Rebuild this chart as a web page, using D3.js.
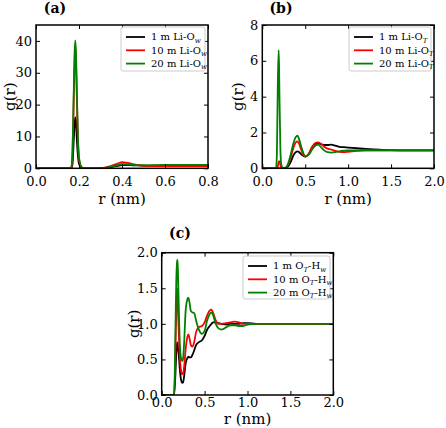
<!DOCTYPE html>
<html><head><meta charset="utf-8">
<script src="https://cdn.jsdelivr.net/npm/d3@7"></script>
<style>body{margin:0;background:#fff}svg{display:block}text{font-family:"DejaVu Serif",serif}</style>
</head><body><svg id="c" width="446" height="428"></svg>
<script>
// ---------- data ----------
const colors = ["#000000", "#ff0000", "#008000"];
const concLabels = ["1 m", "10 m", "20 m"];

// Panel (a): Li-Ow
const rA = [0, 0.15, 0.16, 0.165, 0.17, 0.175, 0.18, 0.183, 0.186, 0.19, 0.195, 0.2, 0.21, 0.22, 0.24, 0.28, 0.32, 0.35, 0.38, 0.40, 0.42, 0.45, 0.48, 0.52, 0.56, 0.6, 0.7, 0.8];
const gA1 = [0, 0, 0, 0.1, 1.5, 8, 14.5, 16, 14.5, 9, 4, 1.4, 0.2, 0.05, 0, 0, 0.1, 0.4, 0.8, 1.0, 1.0, 0.95, 0.9, 0.85, 0.85, 0.9, 0.9, 0.9];
const gA2 = [0, 0, 0, 0.4, 5, 20, 35, 38.5, 34, 22, 9, 3, 0.5, 0.1, 0, 0, 0.2, 0.8, 1.5, 1.9, 1.8, 1.3, 0.9, 0.7, 0.7, 0.7, 0.7, 0.7];
const gA3 = [0, 0, 0, 0.5, 6, 22, 37, 40.2, 36, 24, 10, 3.5, 0.6, 0.1, 0, 0, 0.1, 0.5, 1.0, 1.3, 1.3, 1.1, 0.95, 0.95, 1.0, 1.05, 1.05, 1.05];

// Panel (b): Li-OT
const rB = [0, 0.16, 0.17, 0.18, 0.19, 0.195, 0.2, 0.21, 0.22, 0.24, 0.27, 0.3, 0.33, 0.36, 0.39, 0.41, 0.43, 0.46, 0.5, 0.54, 0.58, 0.62, 0.65, 0.68, 0.72, 0.76, 0.8, 0.85, 0.9, 0.95, 1.0, 1.1, 1.2, 1.3, 1.4, 1.5, 1.7, 2.0];
const gB1 = [0, 0, 0, 0, 0, 0, 0, 0, 0, 0, 0.02, 0.1, 0.35, 0.7, 0.9, 0.95, 0.9, 0.75, 0.65, 0.8, 1.15, 1.35, 1.4, 1.35, 1.3, 1.3, 1.32, 1.27, 1.2, 1.18, 1.16, 1.12, 1.08, 1.05, 1.03, 1.01, 1.0, 1.0];
const gB2 = [0, 0, 0, 0.1, 0.35, 0.4, 0.38, 0.2, 0.05, 0, 0.02, 0.2, 0.6, 1.1, 1.45, 1.5, 1.35, 0.95, 0.65, 0.8, 1.2, 1.42, 1.45, 1.38, 1.2, 1.1, 1.05, 0.97, 0.92, 0.9, 0.92, 0.97, 1.0, 1.0, 1.0, 1.0, 1.0, 1.0];
const gB3 = [0, 0, 0.8, 4.5, 6.6, 5.8, 4.0, 1.2, 0.25, 0.02, 0.03, 0.25, 0.75, 1.35, 1.75, 1.82, 1.6, 1.1, 0.68, 0.75, 1.05, 1.28, 1.32, 1.2, 1.0, 0.9, 0.88, 0.9, 0.95, 0.98, 1.0, 1.0, 1.0, 1.0, 1.0, 1.0, 1.0, 1.0];

// Panel (c): OT-Hw
const rC = [0, 0.145, 0.16, 0.17, 0.18, 0.185, 0.19, 0.2, 0.21, 0.225, 0.24, 0.25, 0.26, 0.28, 0.3, 0.31, 0.32, 0.34, 0.36, 0.38, 0.4, 0.43, 0.47, 0.5, 0.53, 0.56, 0.58, 0.6, 0.63, 0.66, 0.7, 0.75, 0.8, 0.85, 0.9, 0.95, 1.0, 1.1, 1.3, 1.6, 2.0];
const gC1 = [0, 0, 0.3, 0.6, 0.74, 0.72, 0.66, 0.55, 0.38, 0.22, 0.17, 0.18, 0.25, 0.45, 0.52, 0.54, 0.53, 0.53, 0.57, 0.63, 0.7, 0.74, 0.77, 0.83, 0.92, 0.97, 1.0, 1.02, 1.02, 1.01, 1.0, 0.99, 1.0, 1.0, 1.0, 1.01, 1.01, 1.0, 1.0, 1.0, 1.0];
const gC2 = [0, 0, 0.6, 1.2, 1.5, 1.45, 1.2, 0.85, 0.55, 0.35, 0.29, 0.3, 0.38, 0.65, 0.82, 0.85, 0.82, 0.7, 0.68, 0.75, 0.88, 0.95, 0.97, 1.02, 1.12, 1.19, 1.2, 1.15, 1.05, 1.0, 1.0, 1.01, 1.02, 1.03, 1.02, 1.0, 1.0, 1.0, 1.0, 1.0, 1.0];
const gC3 = [0, 0, 0.9, 1.6, 1.88, 1.9, 1.7, 1.2, 0.75, 0.52, 0.48, 0.52, 0.7, 1.2, 1.35, 1.37, 1.33, 1.18, 1.16, 1.15, 1.05, 0.93, 0.86, 0.9, 1.05, 1.14, 1.16, 1.12, 1.0, 0.94, 0.92, 0.95, 0.98, 0.98, 0.97, 0.97, 0.99, 1.0, 1.0, 1.0, 1.0];

const ticksA_x = [0, 0.2, 0.4, 0.6, 0.8], ticksA_y = [0, 10, 20, 30, 40];
const ticksB_x = [0, 0.5, 1.0, 1.5, 2.0], ticksB_y = [0, 2, 4, 6, 8];
const ticksC_x = [0, 0.5, 1.0, 1.5, 2.0], ticksC_y = [0, 0.5, 1.0, 1.5, 2.0];

// ---------- drawing ----------
const svg = d3.select("#c");
svg.append("rect").attr("width", 446).attr("height", 428).attr("fill", "#fff");

function panel(cfg) {
  const x = d3.scaleLinear().domain(cfg.xd).range([cfg.l, cfg.r]);
  const y = d3.scaleLinear().domain(cfg.yd).range([cfg.b, cfg.t]);
  const clipId = "clip" + cfg.id;
  svg.append("clipPath").attr("id", clipId).append("rect")
    .attr("x", cfg.l).attr("y", cfg.t - 2).attr("width", cfg.r - cfg.l).attr("height", cfg.b - cfg.t + 2);
  const g = svg.append("g");
  const line = d3.line().x(d => x(d[0])).y(d => y(d[1])).curve(d3.curveMonotoneX);
  cfg.series.forEach((s, i) => {
    g.append("path").datum(cfg.rs.map((r, k) => [r, s[k]]))
      .attr("d", line).attr("fill", "none").attr("stroke", colors[i])
      .attr("stroke-width", 1.8).attr("stroke-linejoin", "round")
      .attr("clip-path", `url(#${clipId})`);
  });
  const style = sel => {
    sel.select(".domain").remove();
    sel.selectAll(".tick line").attr("stroke", "#000").attr("stroke-width", 1);
    sel.selectAll("text").attr("font-family", "DejaVu Serif").attr("font-size", 13).attr("fill", "#000");
  };
  svg.append("g").attr("transform", `translate(0,${cfg.b})`)
    .call(d3.axisBottom(x).tickValues(cfg.xt).tickSize(-4).tickPadding(cfg.xpad).tickFormat(cfg.xfmt)).call(style);
  svg.append("g").attr("transform", `translate(0,${cfg.t})`)
    .call(d3.axisTop(x).tickValues(cfg.xt).tickSize(-4).tickFormat("")).call(style);
  svg.append("g").attr("transform", `translate(${cfg.l},0)`)
    .call(d3.axisLeft(y).tickValues(cfg.yt).tickSize(-4).tickPadding(4).tickFormat(cfg.yfmt)).call(style);
  svg.append("g").attr("transform", `translate(${cfg.r},0)`)
    .call(d3.axisRight(y).tickValues(cfg.yt).tickSize(-4).tickFormat("")).call(style);
  svg.append("rect").attr("x", cfg.l).attr("y", cfg.t).attr("width", cfg.r - cfg.l).attr("height", cfg.b - cfg.t)
    .attr("fill", "none").attr("stroke", "#000").attr("stroke-width", 1.5);
  // labels
  svg.append("text").attr("x", (cfg.l + cfg.r) / 2).attr("y", cfg.xlY).attr("text-anchor", "middle")
    .attr("font-size", 15).text("r (nm)");
  svg.append("text").attr("transform", `translate(${cfg.ylX},${(cfg.t + cfg.b) / 2}) rotate(-90)`)
    .attr("text-anchor", "middle").attr("dy", "0.35em").attr("font-size", 15).text("g(r)");
  svg.append("text").attr("x", cfg.titleX).attr("y", cfg.titleY).attr("text-anchor", "middle")
    .attr("font-size", 14).attr("font-weight", "bold").text(cfg.title);
  // legend
  const L = cfg.leg;
  svg.append("rect").attr("x", L.x).attr("y", L.y).attr("width", L.w).attr("height", L.h)
    .attr("rx", 2).attr("fill", "#fff").attr("fill-opacity", 0.85).attr("stroke", "#cccccc").attr("stroke-width", 1);
  concLabels.forEach((c, i) => {
    const yy = L.y + 10 + i * 13.3;
    svg.append("line").attr("x1", L.x + 5).attr("x2", L.x + 24).attr("y1", yy).attr("y2", yy)
      .attr("stroke", colors[i]).attr("stroke-width", 1.8);
    const t = svg.append("text").attr("x", L.x + 30).attr("y", yy + 3.3).attr("font-size", 10);
    cfg.legParts(t, c);
  });
}

panel({ id: "a", l: 36, r: 208, t: 25, b: 168.3, xd: [0, 0.8], yd: [0, 45], rs: rA, series: [gA1, gA2, gA3],
  xt: ticksA_x, yt: ticksA_y, xfmt: d3.format(".1f"), yfmt: d3.format("d"), xpad: 8,
  xlY: 204, ylX: 10, title: "(a)", titleX: 55, titleY: 13,
  leg: { x: 121, y: 27, w: 84, h: 44 },
  legParts: (t, c) => {
    t.append("tspan").text(c + " Li-O");
    t.append("tspan").attr("font-size", 7).attr("dy", 2.5).attr("font-style", "italic").text("w");
  } });

panel({ id: "b", l: 262.3, r: 434, t: 25, b: 168.3, xd: [0, 2], yd: [0, 8], rs: rB, series: [gB1, gB2, gB3],
  xt: ticksB_x, yt: ticksB_y, xfmt: d3.format(".1f"), yfmt: d3.format("d"), xpad: 8,
  xlY: 204, ylX: 238, title: "(b)", titleX: 281, titleY: 13,
  leg: { x: 349, y: 27, w: 82, h: 44 },
  legParts: (t, c) => {
    t.append("tspan").text(c + " Li-O");
    t.append("tspan").attr("font-size", 7).attr("dy", 2.5).attr("font-style", "italic").text("T");
  } });

panel({ id: "c", l: 161.7, r: 333.3, t: 252.7, b: 395, xd: [0, 2], yd: [0, 2], rs: rC, series: [gC1, gC2, gC3],
  xt: ticksC_x, yt: ticksC_y, xfmt: d3.format(".1f"), yfmt: d3.format(".1f"), xpad: 3,
  xlY: 424, ylX: 134, title: "(c)", titleX: 180, titleY: 238,
  leg: { x: 243, y: 256, w: 87, h: 43 },
  legParts: (t, c) => {
    t.append("tspan").text(c + " O");
    t.append("tspan").attr("font-size", 7).attr("dy", 2.5).attr("font-style", "italic").text("T");
    t.append("tspan").attr("font-size", 10).attr("dy", -2.5).text("-H");
    t.append("tspan").attr("font-size", 7).attr("dy", 2.5).attr("font-style", "italic").text("w");
  } });
</script></body></html>
